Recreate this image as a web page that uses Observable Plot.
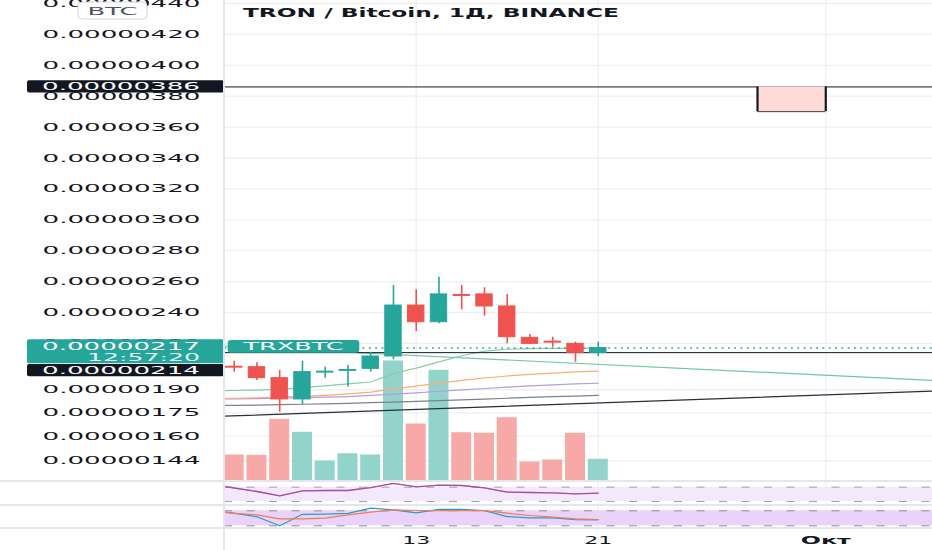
<!DOCTYPE html>
<html>
<head>
<meta charset="utf-8">
<script src="https://cdn.jsdelivr.net/npm/d3@7"></script>
<script src="https://cdn.jsdelivr.net/npm/@observablehq/plot@0.6"></script>
<style>
html,body{margin:0;padding:0;background:#fff;}
#chart{position:relative;width:932px;height:550px;overflow:hidden;background:#fff;font-family:"DejaVu Sans",sans-serif;}
#chart svg{position:absolute;left:0;}
.sep{position:absolute;background:#E3E6ED;}
</style>
</head>
<body>
<div id="chart"></div>
<script>
// ---------- data (prices in satoshi = 1e-8 BTC) ----------
const days   = ["2018-09-05","2018-09-06","2018-09-07","2018-09-08","2018-09-09","2018-09-10","2018-09-11","2018-09-12","2018-09-13","2018-09-14","2018-09-15","2018-09-16","2018-09-17","2018-09-18","2018-09-19","2018-09-20","2018-09-21"];
const open   = [204.9,204.6,197.5,183.7,201.1,202.2,203.5,211.5,244.5,233.7,251.3,251.7,243.9,223.6,221.1,219.7,213.7];
const high   = [208.5,207.4,202.5,208.5,204.6,205.7,214.3,257.5,254.7,262.8,257.5,256.0,251.7,225.8,224.0,220.8,220.8];
const low    = [201.4,196.0,175.5,180.5,197.5,191.7,201.4,209.4,227.7,232.7,241.7,237.6,219.7,219.3,217.5,207.8,211.5];
const close  = [204.3,197.5,183.7,201.4,201.7,202.8,211.5,244.5,233.7,251.7,250.7,243.9,224.0,219.7,220.5,213.7,217.0];
const volume = [25.5,25.2,61.2,48.2,19.5,26.8,25.5,119.5,56.5,110.2,47.8,47.2,62.8,18.5,20.5,47.2,21.2];

// indicator series (Sept 4 .. Sept 21)
const indDays  = ["2018-09-04"].concat(days);
const maGreen  = [189.3,189.5,189.8,190.3,191.3,192.5,193.8,195.0,200.5,204.0,208.0,212.0,215.0,216.2,216.6,216.8,216.8,216.9];
const maOrange = [184.3,184.5,184.8,185.2,185.7,186.4,187.3,188.4,190.5,192.3,194.3,196.0,197.6,198.9,199.9,200.8,201.5,202.1];
const maPurple = [184.0,184.1,184.3,184.6,184.9,185.2,185.6,186.3,187.2,188.0,189.0,189.9,190.8,191.7,192.5,193.2,193.8,194.2];
const maGray   = [179.7,179.9,180.1,180.3,180.6,180.9,181.2,181.6,182.0,182.4,182.9,183.4,183.9,184.5,185.0,185.5,185.9,186.3];
const rsi      = [78,67.8,58,45.9,59.9,60.8,60.8,69,80.4,71,75.6,74.8,68.3,56,55.2,54.3,51.5,53.2];
const stochK   = [80,70.4,56,20,66,67,70,91,84,72,86,86,81,57,52,52,45,44];
const stochD   = [80,70,64,48,48,50.4,64,74.4,84,81.2,81,81,81,70.4,61.2,54.4,48,45.2];

// drawings
const trendBlackDates = ["2018-09-04","2018-10-06"], trendBlackVals = [172.6,189.3];
const trendGreenDates = ["2018-09-04","2018-10-06"], trendGreenVals = [218.5,195.8];
const levelTop = 386, levelLine = 214;
const boxStart = "2018-09-28", boxEnd = "2018-10-01", boxLow = 370, boxHigh = 386;

// axes
const yTicks = [144,160,175,190,220,240,260,280,300,320,340,360,380,400,420,440];
const timeTickDates = ["2018-09-13","2018-09-21","2018-10-01"];
const timeTickLabels = ["13","21","Окт"];
const rsiBand = [30,70], stochBand = [20,80];
const title = "TRON / Bitcoin, 1Д, BINANCE";
const symbol = "TRXBTC", currency = "BTC", countdown = "12:57:20";

// ---------- setup ----------
const DAY = 864e5;
const UP = "#26A69A", DOWN = "#EF5350", UPV = "#92D3CC", DOWNV = "#F7A9A7", INK = "#131722";
const X_DOMAIN = [new Date("2018-09-04T13:46Z"), new Date("2018-10-05T16:34Z")];
const fmt = v => (v * 1e-8).toFixed(8);
const candles = days.map((d,i) => ({date:new Date(d), open:open[i], high:high[i], low:low[i], close:close[i], volume:volume[i], up: close[i] >= open[i]}));
const ups = candles.filter(d => d.up), downs = candles.filter(d => !d.up);
const ind = indDays.map((d,i) => ({date:new Date(d), green:maGreen[i], orange:maOrange[i], purple:maPurple[i], gray:maGray[i], rsi:rsi[i], k:stochK[i], d:stochD[i]}));
const tb = trendBlackDates.map((d,i) => ({date:new Date(d), v:trendBlackVals[i]}));
const tg = trendGreenDates.map((d,i) => ({date:new Date(d), v:trendGreenVals[i]}));
const tickDates = timeTickDates.map(d => new Date(d));
const box = [{x1:new Date(boxStart), x2:new Date(boxEnd), y1:boxLow, y2:boxHigh}];
const shift = f => d => new Date(+d.date + f*DAY);

const base = {width:932, marginLeft:224, marginRight:0, marginTop:0, marginBottom:0,
  x:{type:"utc", domain:X_DOMAIN, axis:null},
  style:{background:"transparent", overflow:"visible", color:INK, fontFamily:"DejaVu Sans, sans-serif"}};
const gridStyle = {stroke:"#EDEFF4", strokeOpacity:1, strokeWidth:1.3};
const Y_DOMAIN = [130.6, 441.94];
const chart = document.getElementById("chart");
function place(svg, top){ svg.style.top = top + "px"; chart.appendChild(svg); return svg; }

// layer 1: grid + price axis
const gridPlot = place(Plot.plot({...base, height:481, y:{domain:Y_DOMAIN, axis:null},
  marks:[
    Plot.gridY(yTicks, gridStyle),
    Plot.gridX(tickDates, gridStyle),
    Plot.axisY(yTicks, {anchor:"left", tickSize:0, tickPadding:24, tickFormat:fmt, fontSize:11})
  ]}), 0);
d3.select(gridPlot).selectAll('g[aria-label="y-axis tick label"] text')
  .attr("textLength",158).attr("lengthAdjust","spacingAndGlyphs").attr("fill",INK);

// layer 2: volume
place(Plot.plot({...base, height:480, y:{domain:[0,480], axis:null},
  marks:[
    Plot.rectY(ups,   {x1:shift(-0.44), x2:shift(0.44), y:"volume", fill:UPV}),
    Plot.rectY(downs, {x1:shift(-0.44), x2:shift(0.44), y:"volume", fill:DOWNV})
  ]}), 0);

// layer 3: price
const pricePlot = place(Plot.plot({...base, height:481, y:{domain:Y_DOMAIN, axis:null},
  marks:[
    Plot.line(ind, {x:"date", y:"gray",   stroke:"#7E818B", strokeWidth:1.2, clip:true}),
    Plot.line(ind, {x:"date", y:"purple", stroke:"#B79CE0", strokeWidth:1.2, clip:true}),
    Plot.line(ind, {x:"date", y:"orange", stroke:"#FFAA70", strokeWidth:1.2, clip:true}),
    Plot.line(ind, {x:"date", y:"green",  stroke:"#86CDA0", strokeWidth:1.2, clip:true}),
    Plot.line(tb, {x:"date", y:"v", stroke:"#2A2E39", strokeWidth:1.2, clip:true}),
    Plot.line(tg, {x:"date", y:"v", stroke:"#72C5A2", strokeWidth:1.2, clip:true}),
    Plot.ruleY([levelTop], {stroke:INK, strokeWidth:1}),
    Plot.ruleY([close[close.length-1]], {stroke:UP, strokeWidth:1.5, strokeDasharray:"1.8,4.5"}),
    Plot.ruleY([levelLine], {stroke:INK, strokeWidth:1}),
    Plot.rect(box, {x1:"x1", x2:"x2", y1:"y1", y2:"y2", fill:"#FFDAD6"}),
    Plot.ruleY(box, {x1:"x1", x2:"x2", y:"y1", stroke:"#3A3D46", strokeWidth:1}),
    Plot.ruleX(box, {x:"x1", y1:"y1", y2:"y2", stroke:INK, strokeWidth:2.2}),
    Plot.ruleX(box, {x:"x2", y1:"y1", y2:"y2", stroke:INK, strokeWidth:2.2}),
    Plot.ruleX(ups,   {x:"date", y1:"low", y2:"high", stroke:UP, strokeWidth:1.6}),
    Plot.ruleX(downs, {x:"date", y1:"low", y2:"high", stroke:DOWN, strokeWidth:1.6}),
    Plot.rect(ups,   {x1:shift(-0.36), x2:shift(0.36), y1:"open", y2:"close", fill:UP, stroke:UP, strokeWidth:1}),
    Plot.rect(downs, {x1:shift(-0.36), x2:shift(0.36), y1:"open", y2:"close", fill:DOWN, stroke:DOWN, strokeWidth:1})
  ]}), 0);

// annotations on price layer
const ys = pricePlot.scale("y");
const yy = v => ys.apply(v);
const svg = d3.select(pricePlot);
const FONT = "DejaVu Sans, sans-serif";
function txt(g, x, y, s, len, opts = {}) {
  return g.append("text").attr("x",x).attr("y",y).attr("dy","0.36em")
    .attr("text-anchor",opts.anchor || "end").attr("font-size",opts.size || 11)
    .attr("font-weight",opts.weight || "normal").attr("font-family",FONT)
    .attr("fill",opts.fill || "#fff").attr("textLength",len).attr("lengthAdjust","spacingAndGlyphs").text(s);
}
const tags = svg.append("g");
// level tag
tags.append("rect").attr("x",27).attr("y",yy(levelTop)-6.2).attr("width",197).attr("height",12.4).attr("rx",2).attr("fill",INK);
txt(tags, 200, yy(levelTop), fmt(levelTop), 158);
// last price tag
const lastClose = close[close.length-1];
const tTop = yy(lastClose) - 8.2;
tags.append("rect").attr("x",27).attr("y",tTop).attr("width",197).attr("height",24).attr("rx",2).attr("fill",UP);
txt(tags, 200, tTop+6.8, fmt(lastClose), 158);
txt(tags, 200, tTop+17.4, countdown, 113, {fill:"#E6F6F4"});
// line level tag (pushed under last price tag)
tags.append("rect").attr("x",27).attr("y",tTop+24.7).attr("width",197).attr("height",12.3).attr("rx",2).attr("fill",INK);
txt(tags, 200, tTop+30.9, fmt(levelLine), 158);
// symbol tag
tags.append("rect").attr("x",227.7).attr("y",yy(lastClose)-7.5).attr("width",131.6).attr("height",12.7).attr("rx",3).attr("fill",UP);
txt(tags, 293.5, yy(lastClose)-1.2, symbol, 100, {anchor:"middle"});
// title
txt(svg, 243, 12.3, title, 376, {anchor:"start", size:13, weight:"bold", fill:INK});
// currency button
svg.append("rect").attr("x",78).attr("y",2).attr("width",69).attr("height",17).attr("rx",4)
  .attr("fill","#fff").attr("stroke","#D1D4DC").attr("stroke-width",1);
txt(svg, 112.5, 11, currency, 50, {anchor:"middle", fill:"#50535E"});

// RSI pane
place(Plot.plot({...base, height:24, y:{domain:[18.8,85.94], axis:null},
  marks:[
    Plot.gridX(tickDates, gridStyle),
    Plot.rect([rsiBand], {y1:d=>d[0], y2:d=>d[1], fill:"#F4E9FC"}),
    Plot.ruleY(rsiBand, {stroke:"#9FA2AB", strokeWidth:1, strokeDasharray:"8,14.5"}),
    Plot.line(ind, {x:"date", y:"rsi", stroke:"#8E4BA8", strokeWidth:1.3, clip:true}),
    Plot.line(ind, {x:"date", y:"rsi", stroke:"#E8507A", strokeWidth:0.6, strokeOpacity:0.7, clip:true})
  ]}), 481);

// Stochastic pane
place(Plot.plot({...base, height:23, y:{domain:[9.2,101.2], axis:null},
  marks:[
    Plot.gridX(tickDates, gridStyle),
    Plot.rect([stochBand], {y1:d=>d[0], y2:d=>d[1], fill:"#E9D3FA"}),
    Plot.ruleY(stochBand, {stroke:"#8A8D96", strokeWidth:1, strokeDasharray:"8,14.5"}),
    Plot.line(ind, {x:"date", y:"k", stroke:"#2F9BC4", strokeWidth:1.2, clip:true}),
    Plot.line(ind, {x:"date", y:"d", stroke:"#F57A58", strokeWidth:1.2, clip:true})
  ]}), 505);

// time axis
const timeTicks = tickDates.map((d,i) => ({date:d, label:timeTickLabels[i], month:d.getUTCDate() === 1}));
const timePlot = place(Plot.plot({...base, height:22, y:{axis:null},
  marks:[
    Plot.text(timeTicks.filter(d => !d.month), {x:"date", text:"label", frameAnchor:"middle", dy:1, fontSize:10.5, fill:INK}),
    Plot.text(timeTicks.filter(d => d.month), {x:"date", text:"label", frameAnchor:"middle", dy:1, fontSize:10.5, fontWeight:"bold", fill:INK})
  ]}), 528);
d3.select(timePlot).selectAll("text").each(function(){
  const s = this.textContent;
  d3.select(this).attr("textLength", s.length === 2 ? 28 : 50).attr("lengthAdjust","spacingAndGlyphs");
});

// pane separators
[[0,480,932,2],[0,504,932,1.5],[0,527,932,1.5],[223,0,2,550]].forEach(([l,t,w,h]) => {
  const d = document.createElement("div"); d.className = "sep";
  Object.assign(d.style, {left:l+"px", top:t+"px", width:w+"px", height:h+"px"});
  chart.appendChild(d);
});
</script>
</body>
</html>
